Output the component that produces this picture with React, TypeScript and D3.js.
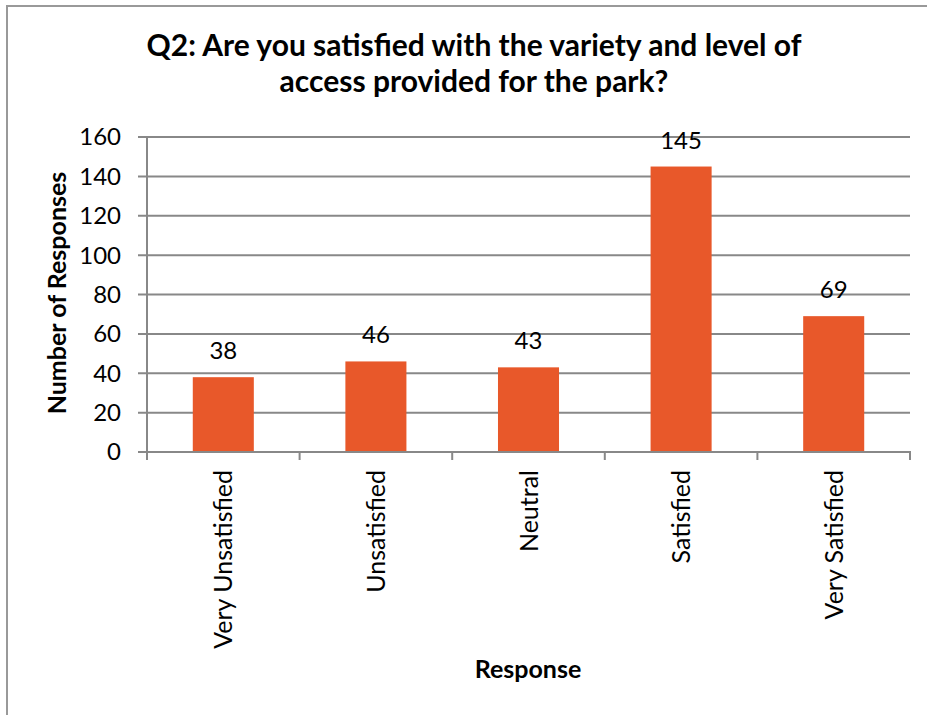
import React from "react";
import * as d3 from "d3";

const categories = ["Very Unsatisfied", "Unsatisfied", "Neutral", "Satisfied", "Very Satisfied"];
const values = [38, 46, 43, 145, 69];
const yTicks = [0, 20, 40, 60, 80, 100, 120, 140, 160];
const titleLines = ["Q2: Are you satisfied with the variety and level of", "access provided for the park?"];
const yTitle = "Number of Responses";
const xTitle = "Response";

const W = 927;
const H = 715;
const FONT = "Lato, 'Open Sans', sans-serif";
const GRID = "#888888";
const BAR = "#E8582A";

export default function App() {
  const x = d3.scaleBand<string>().domain(categories).range([147, 910]).paddingInner(0.6).paddingOuter(0.3);
  const y = d3.scaleLinear().domain([0, 160]).range([452, 137]);
  const step = x.step();
  const boundaries = d3.range(categories.length + 1).map((i) => 147 + i * step);

  return (
    <svg width={W} height={H} style={{ position: "absolute", left: 0, top: 0, display: "block", background: "#fff" }} fontFamily={FONT}>
      <rect x={0} y={0} width={W} height={H} fill="#fff" />
      <rect x={7} y={6} width={W + 10} height={H + 10} fill="none" stroke="#999" strokeWidth={2} />
      {titleLines.map((t, i) => (
        <text key={t} x={474} y={56 + i * 36} textAnchor="middle" fontWeight="bold" fontSize={30} fill="#000">
          {t}
        </text>
      ))}
      {yTicks.filter((t) => t > 0).map((t) => (
        <line key={"g" + t} x1={138} x2={910} y1={y(t)} y2={y(t)} stroke={GRID} strokeWidth={2} />
      ))}
      {categories.map((c, i) => (
        <rect key={c} x={x(c)} y={y(values[i])} width={x.bandwidth()} height={y(0) - y(values[i])} fill={BAR} />
      ))}
      <line x1={147} x2={147} y1={y(160)} y2={y(0)} stroke={GRID} strokeWidth={2} />
      <line x1={138} x2={911} y1={y(0)} y2={y(0)} stroke={GRID} strokeWidth={2} />
      {boundaries.map((b, i) => (
        <line key={"t" + i} x1={b} x2={b} y1={y(0)} y2={y(0) + 8} stroke={GRID} strokeWidth={2} />
      ))}
      {yTicks.map((t) => (
        <text key={"l" + t} x={121} y={y(t)} dy="0.35em" textAnchor="end" fontSize={24} fill="#000">
          {t}
        </text>
      ))}
      {categories.map((c, i) => (
        <text key={"v" + c} x={(x(c) as number) + x.bandwidth() / 2} y={y(values[i]) - 18} textAnchor="middle" fontSize={24} fill="#000">
          {values[i]}
        </text>
      ))}
      {categories.map((c) => (
        <text
          key={"c" + c}
          transform={`translate(${(x(c) as number) + x.bandwidth() / 2 + 9},470) rotate(-90)`}
          textAnchor="end"
          fontSize={25}
          fill="#000"
        >
          {c}
        </text>
      ))}
      <text transform="translate(66,293) rotate(-90)" textAnchor="middle" fontWeight="bold" fontSize={25} fill="#000">
        {yTitle}
      </text>
      <text x={528} y={678} textAnchor="middle" fontWeight="bold" fontSize={25} fill="#000">
        {xTitle}
      </text>
    </svg>
  );
}
